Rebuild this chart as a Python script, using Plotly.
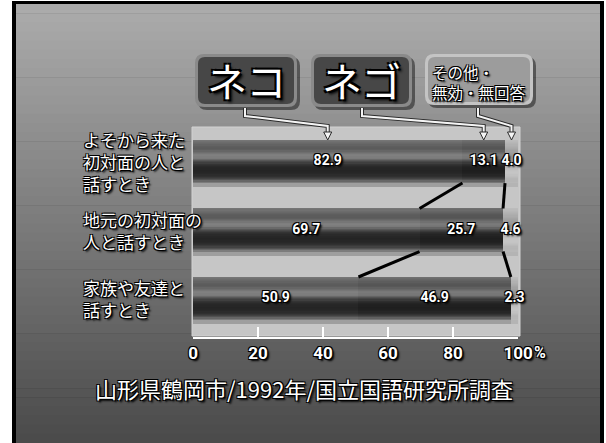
import plotly.graph_objects as go

# --- data -------------------------------------------------------------
situations = [
    "よそから来た<br>初対面の人と<br>話すとき",
    "地元の初対面の<br>人と話すとき",
    "家族や友達と<br>話すとき",
]
neko = [82.9, 69.7, 50.9]          # ネコ
nego = [13.1, 25.7, 46.9]          # ネゴ
other = [4.0, 4.6, 2.3]            # その他・無効・無回答
series_names = ["ネコ", "ネゴ", "その他・無効・無回答"]
tick_values = [0, 20, 40, 60, 80, 100]
tick_labels = ["0", "20", "40", "60", "80", "100"]
caption = "山形県鶴岡市/1992年/国立国語研究所調査"

# --- canvas helpers ----------------------------------------------------
W, H = 606, 443
X0PX, X1PX = 193, 518          # plot area left/right in pixels
Y_TOP_PX, Y_BOT_PX = 127, 337  # plot area top/bottom in pixels


def px(x):
    return x / W


def py(y):
    return 1 - y / H


def to_data(xpix):
    return (xpix - X0PX) / (X1PX - X0PX) * 100


JP = "Noto Sans CJK JP"
NUM = "Roboto, Noto Sans"
OUTLINE = ("-1px -1px 0 #000, 1px -1px 0 #000, -1px 1px 0 #000, "
           "1px 1px 0 #000, 2px 2px 2px #000")

rows = list(range(len(situations)))[::-1]   # top row gets the highest y
BAR_W = 0.628

segments = [neko, nego, other]
starts = []
for i in range(len(situations)):
    s = 0.0
    row_starts = []
    for seg in segments:
        row_starts.append(s)
        s += seg[i]
    starts.append(row_starts)

# horizontal shading (top -> bottom) giving the cylinder look
dark_key = [0x76, 0x6a, 0x5e, 0x5a, 0x6e, 0x82, 0x7a, 0x50,
            0x34, 0x28, 0x24, 0x26, 0x30, 0x46, 0x7c]
light_key = [0xbc, 0xb6, 0xae, 0xa6, 0x9e, 0x96, 0x9a, 0xa4,
             0xae, 0xb8, 0xc2, 0xc6, 0xbe, 0xb4, 0xb8]


def smooth(key, n):
    out = []
    for k in range(n):
        t = k / (n - 1) * (len(key) - 1)
        a = int(t)
        b = min(a + 1, len(key) - 1)
        f = t - a
        out.append(round(key[a] * (1 - f) + key[b] * f))
    return out


N_BANDS = 36
dark_profile = smooth(dark_key, N_BANDS)
nego_profile = [max(v - 6, 0) for v in dark_profile]
light_profile = smooth(light_key, N_BANDS)
profiles = [dark_profile, nego_profile, light_profile]


def gray(v):
    return "#%02x%02x%02x" % (v, v, v)


fig = go.Figure()

band = BAR_W / N_BANDS
for k in range(N_BANDS):
    ys, xs, bases, cols = [], [], [], []
    for i, r in enumerate(rows):
        for j, seg in enumerate(segments):
            ys.append(r)
            xs.append(seg[i])
            bases.append(starts[i][j])
            cols.append(gray(profiles[j][k]))
    fig.add_trace(go.Bar(
        orientation="h", y=ys, x=xs, base=bases,
        width=band * 1.15, offset=BAR_W / 2 - (k + 1) * band,
        marker=dict(color=cols, line=dict(width=0)),
        showlegend=False, hoverinfo="skip",
    ))

# soft shadow under each bar
sh_y, sh_x, sh_b, sh_c = [], [], [], []
for i, r in enumerate(rows):
    for j, seg in enumerate(segments):
        sh_y.append(r)
        sh_x.append(seg[i])
        sh_b.append(starts[i][j])
        sh_c.append("#9e9e9e" if j < 2 else "#b4b4b4")
fig.add_trace(go.Bar(
    orientation="h", y=sh_y, x=sh_x, base=sh_b,
    width=0.06, offset=-BAR_W / 2 - 0.06,
    marker=dict(color=sh_c, line=dict(width=0)),
    showlegend=False, hoverinfo="skip",
))

# value labels centred in each segment
lab_x, lab_y, lab_t = [], [], []
for i, r in enumerate(rows):
    for j, seg in enumerate(segments):
        lab_x.append(starts[i][j] + seg[i] / 2)
        lab_y.append(r)
        lab_t.append(f"{seg[i]:.1f}")
fig.add_trace(go.Scatter(
    x=lab_x, y=lab_y, text=lab_t, mode="text",
    textfont=dict(family=NUM, size=14, color="white", weight="bold",
                  shadow=OUTLINE),
    showlegend=False, hoverinfo="skip", cliponaxis=False,
))

shapes = []
# frame and graded backdrop
shapes.append(dict(type="rect", xref="paper", yref="paper",
                   x0=px(12), x1=px(604), y0=py(443), y1=py(1),
                   fillcolor="#000000", line=dict(width=0), layer="below"))
n_bg = 48
top_v, bot_v = 172, 74
for b in range(n_bg):
    y0 = 4 + (443 - 4) * b / n_bg
    y1 = 4 + (443 - 4) * (b + 1) / n_bg + 0.6
    v = round(top_v + (bot_v - top_v) * (b + 0.5) / n_bg)
    shapes.append(dict(type="rect", xref="paper", yref="paper",
                       x0=px(16), x1=px(600), y0=py(min(y1, 443)), y1=py(y0),
                       fillcolor=gray(v), line=dict(width=0), layer="below"))
# light panel behind the bars
shapes.append(dict(type="rect", xref="paper", yref="paper",
                   x0=px(192), x1=px(520), y0=py(336), y1=py(Y_TOP_PX),
                   fillcolor="#c6c6c6", line=dict(color="#d2d2d2", width=1),
                   layer="below"))


def rounded(x0, y0, x1, y1, r):
    rx, ry = r / W, r / H
    a, b, c, d = px(x0), py(y1), px(x1), py(y0)   # left, bottom, right, top
    return (f"M {a+rx},{d} L {c-rx},{d} Q {c},{d} {c},{d-ry} "
            f"L {c},{b+ry} Q {c},{b} {c-rx},{b} L {a+rx},{b} "
            f"Q {a},{b} {a},{b+ry} L {a},{d-ry} Q {a},{d} {a+rx},{d} Z")


boxes = [
    (195, 54, 297, 107, "#8a8a8a", "#474747"),
    (311, 54, 412, 107, "#8a8a8a", "#474747"),
    (425, 54, 533, 105, "#c4c4c4", "#9c9c9c"),
]
for x0, y0, x1, y1, edge, fill in boxes:
    shapes.append(dict(type="path", xref="paper", yref="paper",
                       path=rounded(x0 + 3, y0 + 3, x1 + 3, y1 + 3, 9),
                       fillcolor="rgba(0,0,0,0.45)", line=dict(width=0)))
    shapes.append(dict(type="path", xref="paper", yref="paper",
                       path=rounded(x0, y0, x1, y1, 9),
                       fillcolor=edge, line=dict(width=0)))
    shapes.append(dict(type="path", xref="paper", yref="paper",
                       path=rounded(x0 + 3, y0 + 3, x1 - 3, y1 - 3, 7),
                       fillcolor=fill, line=dict(width=0)))

# leader arrows from each legend box to its segment in the top bar
top_i = 0
leader_starts = [245, 362, 478]
for j, sx in enumerate(leader_starts):
    tx = starts[top_i][j] + segments[j][top_i] / 2
    pts = [(to_data(sx), py(108)), (to_data(sx), py(116)),
           (tx, py(126)), (tx, py(134))]
    path = "M " + " L ".join(f"{a},{b}" for a, b in pts)
    for col, wd in (("#2a2a2a", 4), ("#f4f4f4", 2)):
        shapes.append(dict(type="path", xref="x", yref="paper", path=path,
                           line=dict(color=col, width=wd)))
    hw = 4 / (X1PX - X0PX) * 100
    head = (f"M {tx-hw},{py(132)} L {tx+hw},{py(132)} "
            f"L {tx},{py(140)} Z")
    shapes.append(dict(type="path", xref="x", yref="paper", path=head,
                       fillcolor="#f4f4f4", line=dict(color="#2a2a2a", width=1)))

# connector lines joining the segment boundaries of neighbouring bars
for i in range(len(situations) - 1):
    for j in (1, 2):
        shapes.append(dict(type="line", xref="x", yref="y",
                           x0=starts[i][j], y0=rows[i] - BAR_W / 2,
                           x1=starts[i + 1][j], y1=rows[i + 1] + BAR_W / 2,
                           line=dict(color="#000000", width=3)))

annotations = []
for i, r in enumerate(rows):
    annotations.append(dict(
        text=situations[i], xref="paper", yref="y", x=px(81), y=r,
        xanchor="left", yanchor="middle", align="left", showarrow=False,
        font=dict(family=JP, size=17, color="white", shadow=OUTLINE)))

box_text = [
    (246, 80, series_names[0]),
    (361.5, 80, series_names[1]),
]
for cx, cy, t in box_text:
    annotations.append(dict(
        text=t, xref="paper", yref="paper", x=px(cx), y=py(cy),
        xanchor="center", yanchor="middle", showarrow=False,
        font=dict(family=JP, size=40, color="white",
                  shadow="-2px -2px 0 #000, 2px -2px 0 #000, -2px 2px 0 #000, "
                         "2px 2px 0 #000, 3px 3px 3px #000")))
annotations.append(dict(
    text="その他・<br>無効・無回答", xref="paper", yref="paper",
    x=px(430), y=py(82), xanchor="left", yanchor="middle", align="left",
    showarrow=False,
    font=dict(family=JP, size=15.5, color="white", shadow=OUTLINE)))

annotations.append(dict(
    text="%", xref="x", yref="paper", x=100, y=py(352), xshift=14,
    xanchor="left", yanchor="middle", showarrow=False,
    font=dict(family=NUM, size=16, color="white", weight="bold",
              shadow=OUTLINE)))

annotations.append(dict(
    text=caption, xref="paper", yref="paper", x=px(303.5), y=py(388),
    xanchor="center", yanchor="middle", showarrow=False,
    font=dict(family=JP, size=22, color="white", shadow=OUTLINE)))

fig.update_layout(
    width=W, height=H,
    margin=dict(l=0, r=0, t=0, b=0, pad=0, autoexpand=False),
    paper_bgcolor="#ffffff", plot_bgcolor="rgba(0,0,0,0)",
    barmode="overlay", bargap=0,
    shapes=shapes, annotations=annotations,
    xaxis=dict(
        domain=[px(X0PX), px(X1PX)], range=[0, 100], automargin=False,
        showgrid=False, zeroline=False,
        showline=True, linecolor="white", linewidth=2,
        ticks="inside", ticklen=10, tickwidth=2, tickcolor="white",
        tickvals=tick_values, ticktext=tick_labels,
        tickfont=dict(family=NUM, size=17, color="white", weight="bold",
                      shadow=OUTLINE),
        fixedrange=True,
    ),
    yaxis=dict(
        domain=[py(Y_BOT_PX), py(Y_TOP_PX)], range=[-0.562, 2.504],
        automargin=False,
        showgrid=False, zeroline=False, showline=False,
        showticklabels=False, ticks="", fixedrange=True,
    ),
    showlegend=False,
)

fig.write_html("out.html")
